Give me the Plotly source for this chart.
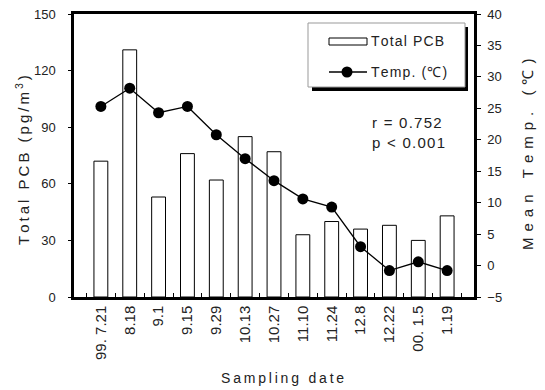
import plotly.graph_objects as go

dates = ["99. 7.21", "8.18", "9.1", "9.15", "9.29", "10.13", "10.27",
         "11.10", "11.24", "12.8", "12.22", "00. 1.5", "1.19"]
total_pcb = [72, 131, 53, 76, 62, 85, 77, 33, 40, 36, 38, 30, 43]
mean_temp = [25.3, 28.2, 24.3, 25.3, 20.8, 17.0, 13.5, 10.6, 9.3, 3.0, -0.8, 0.6, -0.8]
left_ticks = [0, 30, 60, 90, 120, 150]
right_ticks = [-5, 0, 5, 10, 15, 20, 25, 30, 35, 40]

FONT = "Liberation Sans, Arial, sans-serif"
TXT = "#222"
THIN = "\u2009"
HAIR = "\u200a"


def spaced(s, sep):
    return sep.join(list(s))


fig = go.Figure()
fig.add_trace(go.Bar(x=dates, y=total_pcb, width=0.48, yaxis="y",
                     marker=dict(color="white", line=dict(color="black", width=1)),
                     showlegend=False))
fig.add_trace(go.Scatter(x=dates, y=mean_temp, mode="lines+markers", yaxis="y2",
                         line=dict(color="black", width=1.3),
                         marker=dict(color="black", size=11),
                         showlegend=False))

L, R, T, B = 74, 474, 14, 297
W, H = R - L, B - T


def px(x):
    return (x - L) / W


def py(y):
    return (B - y) / H


shapes = [
    # legend shadow
    dict(type="rect", xref="paper", yref="paper", x0=px(312), x1=px(468), y0=py(27), y1=py(91),
         fillcolor="black", line=dict(width=0), layer="above"),
    dict(type="rect", xref="paper", yref="paper", x0=px(308), x1=px(465), y0=py(23), y1=py(87),
         fillcolor="white", line=dict(color="#999", width=1), layer="above"),
    dict(type="rect", xref="paper", yref="paper", x0=px(329), x1=px(367), y0=py(38), y1=py(45),
         fillcolor="white", line=dict(color="black", width=1), layer="above"),
    dict(type="line", xref="paper", yref="paper", x0=px(329), x1=px(367), y0=py(72), y1=py(72),
         line=dict(color="black", width=1.3), layer="above"),
    dict(type="circle", xref="paper", yref="paper", xsizemode="pixel", ysizemode="pixel",
         xanchor=px(347), yanchor=py(72), x0=-5.5, x1=5.5, y0=-5.5, y1=5.5,
         fillcolor="black", line=dict(width=0), layer="above"),
]

ytitle = spaced("Total PCB (pg/m", THIN) + THIN + "<sup>3</sup>" + THIN + ")"
y2title = spaced("Mean Temp. (℃)", THIN + THIN)
xtitle = spaced("Sampling date", THIN)

annotations = [
    dict(text=spaced("Total PCB", HAIR), xref="paper", yref="paper", x=px(369), y=py(41),
         xanchor="left", yanchor="middle", showarrow=False, font=dict(size=14, color=TXT, family=FONT)),
    dict(text=spaced("Temp. (℃)", HAIR), xref="paper", yref="paper", x=px(369), y=py(72),
         xanchor="left", yanchor="middle", showarrow=False, font=dict(size=14, color=TXT, family=FONT)),
    dict(text=spaced("r = 0.752", HAIR) + "<br>" + spaced("p < 0.001", HAIR),
         xref="paper", yref="paper", x=px(370), y=py(132),
         xanchor="left", yanchor="middle", align="left", showarrow=False,
         font=dict(size=15, color=TXT, family=FONT)),
    dict(text=ytitle, xref="paper", yref="paper", x=px(22), y=py(160), textangle=-90,
         xanchor="center", yanchor="middle", showarrow=False,
         font=dict(size=15, color=TXT, family=FONT)),
    dict(text=y2title, xref="paper", yref="paper", x=px(527), y=py(155), textangle=-90,
         xanchor="center", yanchor="middle", showarrow=False,
         font=dict(size=15, color=TXT, family=FONT)),
    dict(text=xtitle, xref="paper", yref="paper", x=px(282), y=py(378),
         xanchor="center", yanchor="middle", showarrow=False,
         font=dict(size=14, color=TXT, family=FONT)),
]

fig.update_layout(
    width=545, height=390,
    margin=dict(l=L, r=545 - R, t=T, b=390 - B),
    plot_bgcolor="white", paper_bgcolor="white",
    font=dict(family=FONT, size=13, color=TXT),
    shapes=shapes, annotations=annotations,
    showlegend=False, bargap=0.5,
    xaxis=dict(domain=[0, 1], showline=True, linecolor="black", linewidth=2.5, mirror=True,
               tickangle=-90, ticks="inside", tickson="boundaries", ticklen=4,
               tickcolor="black", tickfont=dict(size=15, color=TXT),
               showgrid=False, automargin=False),
    yaxis=dict(range=[0, 150], tickvals=left_ticks, showline=True, linecolor="black",
               linewidth=2.5, mirror=True, ticks="outside", ticklen=3, tickcolor="black",
               tickfont=dict(size=13, color=TXT), showgrid=False, zeroline=False,
               ticklabelstandoff=10, automargin=False),
    yaxis2=dict(range=[-5, 40], tickvals=right_ticks, overlaying="y", side="right",
                showline=True, linecolor="black", linewidth=2.5, ticks="outside", ticklen=4,
                tickcolor="black", tickfont=dict(size=13, color=TXT), showgrid=False,
                zeroline=False, ticklabelstandoff=4, automargin=False),
)

fig.write_html("out.html", config={"displayModeBar": False},
               post_script="document.body.style.margin='0';")
